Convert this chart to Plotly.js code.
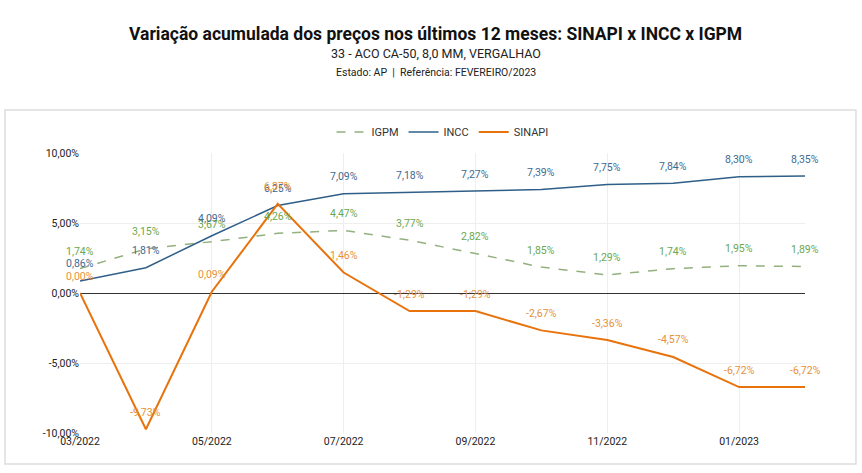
<!DOCTYPE html>
<html>
<head>
<meta charset="utf-8">
<script src="https://cdn.plot.ly/plotly-3.0.1.min.js"></script>
<style>html,body{margin:0;padding:0;background:#fff;}#chart{width:862px;height:473px;}</style>
</head>
<body>
<div id="chart"></div>
<script>
const months = ["03/2022","04/2022","05/2022","06/2022","07/2022","08/2022","09/2022","10/2022","11/2022","12/2022","01/2023","02/2023"];
const igpm = [1.74, 3.15, 3.67, 4.26, 4.47, 3.77, 2.82, 1.85, 1.29, 1.74, 1.95, 1.89];
const incc = [0.86, 1.81, 4.09, 6.25, 7.09, 7.18, 7.27, 7.39, 7.75, 7.84, 8.30, 8.35];
const sinapi = [0.00, -9.73, 0.09, 6.37, 1.46, -1.29, -1.29, -2.67, -3.36, -4.57, -6.72, -6.72];
const sinapiLabels = ["0,00%","-9,73%","0,09%","6,37%","1,46%","-1;29%","-1;29%","-2,67%","-3,36%","-4,57%","-6,72%","-6,72%"];
const tickVals = ["03/2022","05/2022","07/2022","09/2022","11/2022","01/2023"];
const yTicks = [-10, -5, 0, 5, 10];
const yTickText = ["-10,00%","-5,00%","0,00%","5,00%","10,00%"];

const FONT = "Roboto, Arial, sans-serif";
const fmt = v => v.toFixed(2).replace(".", ",") + "%";

const traces = [
  {name:"IGPM", x:months, y:igpm, type:"scatter", mode:"lines", line:{color:"#93b07e", width:1.5, dash:"dash"}},
  {name:"INCC", x:months, y:incc, type:"scatter", mode:"lines", line:{color:"#2f5f88", width:1.5}},
  {name:"SINAPI", x:months, y:sinapi, type:"scatter", mode:"lines", line:{color:"#e8730c", width:2}}
];

const annotations = [];
function addLabels(vals, texts, color) {
  vals.forEach((v, i) => {
    annotations.push({x: months[i], y: v, xref:"x", yref:"y", text: texts[i], showarrow:false,
      yshift: 17, font:{family:FONT, size:10.5, color:color}});
  });
}
addLabels(igpm, igpm.map(fmt), "#6aa84f");
addLabels(incc, incc.map(fmt), "#3d6a92");
addLabels(sinapi, sinapiLabels, "#e69138");

// titles
annotations.push({text:"<b>Variação acumulada dos preços nos últimos 12 meses: SINAPI x INCC x IGPM</b>", xref:"paper", yref:"paper", x:0.4904, y:1.425, showarrow:false, font:{family:FONT, size:17.5, color:"#111"}, yanchor:"middle"});
annotations.push({text:"33 - ACO CA-50, 8,0 MM, VERGALHAO", xref:"paper", yref:"paper", x:0.4904, y:1.354, showarrow:false, font:{family:FONT, size:12.5, color:"#222"}, yanchor:"middle"});
annotations.push({text:"Estado: AP  |  Referência: FEVEREIRO/2023", xref:"paper", yref:"paper", x:0.4904, y:1.289, showarrow:false, font:{family:FONT, size:10.5, color:"#222"}, yanchor:"middle"});

const layout = {
  width:862, height:473,
  margin:{l:80, r:57, t:153, b:40},
  paper_bgcolor:"#fff", plot_bgcolor:"#fff",
  font:{family:FONT, size:11, color:"#222"},
  showlegend:true,
  legend:{orientation:"h", x:0.5, xanchor:"center", y:1.075, yanchor:"middle", font:{family:FONT, size:11, color:"#333"}, traceorder:"normal"},
  xaxis:{type:"category", range:[0, 11], tickmode:"array", tickvals:tickVals, ticktext:tickVals, showgrid:true, gridcolor:"#eeeeee", zeroline:false, showline:false, ticks:"", tickfont:{family:FONT, size:10.5, color:"#222"}, ticklabelstandoff:0},
  yaxis:{range:[-10, 10], tickmode:"array", tickvals:yTicks, ticktext:yTickText, showgrid:true, gridcolor:"#eeeeee", zeroline:true, zerolinecolor:"#333", zerolinewidth:1, showline:false, ticks:"", tickfont:{family:FONT, size:10.5, color:"#222"}},
  shapes:[{type:"rect", xref:"paper", yref:"paper", x0:-0.1034, x1:1.0703, y0:-0.1107, y1:1.1536, line:{color:"#dddddd", width:1.5}, layer:"below"}],
  annotations: annotations
};

Plotly.newPlot("chart", traces, layout, {displayModeBar:false, staticPlot:true});
</script>
</body>
</html>
